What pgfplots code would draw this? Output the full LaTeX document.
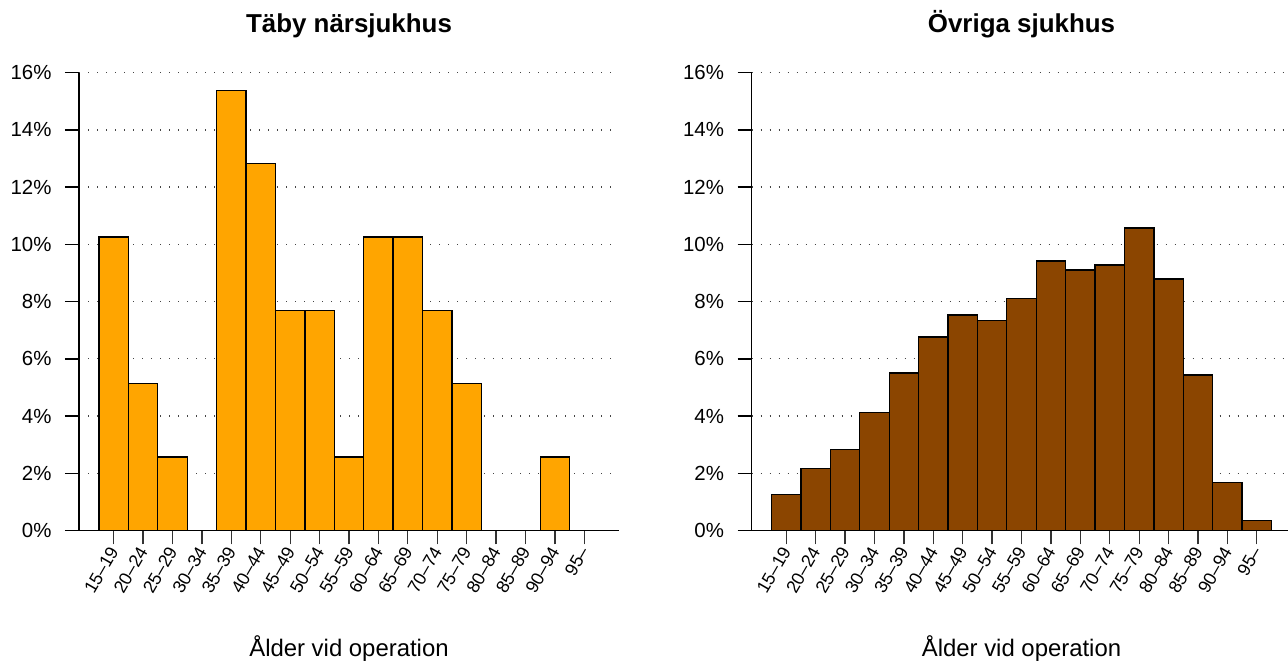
\documentclass[border=0pt]{standalone}
\usepackage{fontspec}
\setmainfont{Liberation Sans}
\usepackage{pgfplots}
\pgfplotsset{compat=1.18}
\definecolor{taby}{HTML}{FFA500}
\definecolor{ovriga}{HTML}{8B4500}
\definecolor{gridc}{HTML}{444444}

\pgfplotsset{
  alder/.style={
    scale only axis, width=540bp, height=457.8bp,
    xmin=-1.18, xmax=17.18, ymin=0, ymax=16,
    axis x line=bottom, axis y line=left,
    axis line style={-, line width=1.5bp, black},
    ybar, bar width=1,
    xtick={0,...,16},
    xticklabels={15--19,20--24,25--29,30--34,35--39,40--44,45--49,50--54,55--59,60--64,65--69,70--74,75--79,80--84,85--89,90--94,95--},
    ytick={0,2,...,16},
    yticklabels={0\%,2\%,4\%,6\%,8\%,10\%,12\%,14\%,16\%},
    tick align=outside, major tick length=14bp,
    tick style={line width=1.5bp, black},
    x tick style={black!80, line width=1.3bp},
    yticklabel style={font=\fontsize{20.5}{24}\selectfont, xshift=-10bp},
    xticklabel style={font=\fontsize{18}{20}\selectfont, rotate=60, anchor=east, yshift=-2bp},
    ymajorgrids, grid style={gridc, line width=1.3bp, dash pattern=on 1.3bp off 7.7bp},
    title style={font=\bfseries\fontsize{26}{30}\selectfont, at={(axis description cs:0.5,1)}, anchor=base, yshift=34.7bp},
    xlabel style={font=\fontsize{24}{28}\selectfont, at={(axis description cs:0.5,0)}, anchor=base, yshift=-126bp},
    xlabel={Ålder vid operation},
  }
}

\begin{document}
\begin{tikzpicture}
\path[use as bounding box] (0,0) rectangle (1288bp,663bp);

\begin{axis}[alder, at={(79bp,132.5bp)}, anchor=south west, title={Täby närsjukhus}]
  \addplot[fill=taby, draw=black, line width=1.3bp] coordinates {
    (0,10.256) (1,5.128) (2,2.564) (3,0) (4,15.385) (5,12.821) (6,7.692) (7,7.692)
    (8,2.564) (9,10.256) (10,10.256) (11,7.692) (12,5.128) (13,0) (14,0) (15,2.564) (16,0)};
\end{axis}

\begin{axis}[alder, at={(751.5bp,132.5bp)}, anchor=south west, title={Övriga sjukhus}]
  \addplot[fill=ovriga, draw=black, line width=1.3bp] coordinates {
    (0,1.26) (1,2.17) (2,2.84) (3,4.13) (4,5.50) (5,6.76) (6,7.53) (7,7.35)
    (8,8.12) (9,9.42) (10,9.10) (11,9.28) (12,10.57) (13,8.79) (14,5.43) (15,1.68) (16,0.35)};
\end{axis}
\end{tikzpicture}
\end{document}
